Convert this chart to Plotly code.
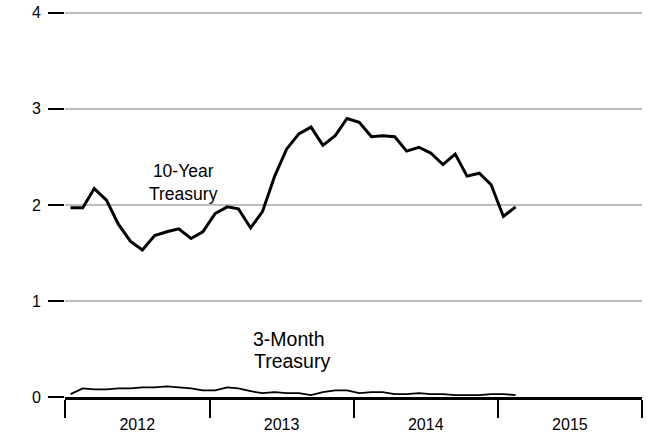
import plotly.graph_objects as go
import pandas as pd

# Monthly averages, Jan 2012 - Feb 2015 (percent)
ten_year = [1.97, 1.97, 2.17, 2.05, 1.80, 1.62, 1.53, 1.68, 1.72, 1.75, 1.65, 1.72,
            1.91, 1.98, 1.96, 1.76, 1.93, 2.30, 2.58, 2.74, 2.81, 2.62, 2.72, 2.90,
            2.86, 2.71, 2.72, 2.71, 2.56, 2.60, 2.54, 2.42, 2.53, 2.30, 2.33, 2.21,
            1.88, 1.98]
three_month = [0.03, 0.09, 0.08, 0.08, 0.09, 0.09, 0.10, 0.10, 0.11, 0.10, 0.09, 0.07,
               0.07, 0.10, 0.09, 0.06, 0.04, 0.05, 0.04, 0.04, 0.02, 0.05, 0.07, 0.07,
               0.04, 0.05, 0.05, 0.03, 0.03, 0.04, 0.03, 0.03, 0.02, 0.02, 0.02, 0.03,
               0.03, 0.02]
start_month = "2012-01-01"
y_ticks = [0, 1, 2, 3, 4]

months = pd.date_range(start_month, periods=len(ten_year), freq="MS") + pd.Timedelta(days=14)

FONT = "Liberation Sans, Arial, sans-serif"

fig = go.Figure()
fig.add_trace(go.Scatter(x=months, y=ten_year, mode="lines",
                         line=dict(color="black", width=3), hoverinfo="skip"))
fig.add_trace(go.Scatter(x=months, y=three_month, mode="lines",
                         line=dict(color="black", width=1.8), hoverinfo="skip"))

fig.add_annotation(x="2012-10-27", y=2.23, text="10-Year<br>Treasury", showarrow=False,
                   font=dict(family=FONT, size=17.5, color="black"), align="center",
                   xanchor="center", yanchor="middle")
labels = [
    ("2013-07-20", 0.60, "3-Month", 19.5),
    ("2013-07-30", 0.37, "Treasury", 19.5),
]
for x, y, t, s in labels:
    fig.add_annotation(x=x, y=y, text=t, showarrow=False,
                       font=dict(family=FONT, size=s, color="black"),
                       xanchor="center", yanchor="middle")

fig.update_layout(
    width=650, height=435,
    margin=dict(l=65, r=8, t=8, b=38),
    paper_bgcolor="white", plot_bgcolor="white",
    showlegend=False,
    font=dict(family=FONT, size=16, color="black"),
)
fig.update_xaxes(
    type="date", range=["2012-01-01", "2016-01-01"],
    tick0="2012-01-01", dtick="M12", ticklabelmode="period", tickformat="%Y",
    ticks="outside", ticklen=18, tickwidth=2, tickcolor="black",
    showline=True, linecolor="black", linewidth=2.5,
    showgrid=False, zeroline=False, automargin=False,
    tickfont=dict(family=FONT, size=16, color="black"),
    ticklabelstandoff=-7,
)
fig.update_yaxes(
    range=[0, 4.05], tickvals=y_ticks,
    ticks="outside", ticklen=16, tickwidth=2, tickcolor="black",
    showgrid=True, gridcolor="#bdbdbd", gridwidth=2,
    showline=False, zeroline=False, automargin=False,
    tickfont=dict(family=FONT, size=16, color="black"),
    ticklabelstandoff=4,
)

fig.write_html("out.html", config={"displayModeBar": False},
               post_script="document.body.style.margin='0';")
